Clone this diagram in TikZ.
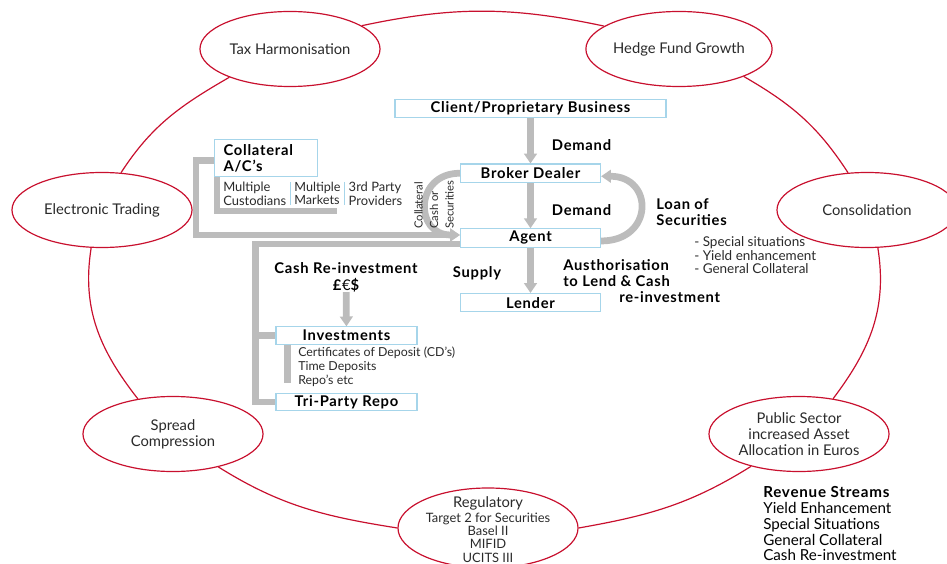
\documentclass[tikz,border=0pt]{standalone}
\usepackage{fontspec}
\setmainfont{Lato}[BoldFeatures={LetterSpace=5}]
\usetikzlibrary{shapes.geometric, arrows.meta, positioning}
\definecolor{ringred}{HTML}{C8102E}
\definecolor{boxblue}{HTML}{A6D5EA}
\definecolor{bargray}{HTML}{BCBCBC}
\definecolor{ringtext}{HTML}{2A2A2A}
\tikzstyle{ring} = [draw=ringred, line width=0.85pt, ellipse, minimum width=4.5cm, minimum height=1.875cm, inner sep=0pt, align=center, text=ringtext, font=\fontsize{10.5}{11.3}\selectfont]
\tikzstyle{ringline} = [draw=ringred, line width=0.85pt]
\tikzstyle{box} = [draw=boxblue, line width=0.8pt, rectangle, minimum width=3.5cm, minimum height=0.46cm, inner sep=0pt, font=\fontsize{10.5}{12}\selectfont\bfseries]
\tikzstyle{arrw} = [draw=bargray, line width=4.8pt, -{Triangle[width=9pt, length=7pt]}]
\tikzstyle{bar} = [draw=bargray, line width=4.6pt]
\tikzstyle{lbl} = [inner sep=0pt, align=left, text=black, font=\fontsize{10.5}{11.3}\selectfont\bfseries]
\tikzstyle{small} = [inner sep=0pt, align=left, text=ringtext, font=\fontsize{8.8}{9.7}\selectfont]
\tikzstyle{divider} = [draw=boxblue, line width=0.8pt]

\begin{document}
\begin{tikzpicture}[x=0.025cm, y=-0.025cm, node distance=1.13cm]
    \useasboundingbox (0,0) rectangle (947,564);

    \node (tax) [ring] at (290,49) {Tax Harmonisation};
    \node (hedge) [ring] at (679,49) {Hedge Fund Growth};
    \node (etrade) [ring] at (102,210) {Electronic Trading};
    \node (consol) [ring] at (867,210) {Consolidation};
    \node (spread) [ring] at (173,434) {Spread\\Compression};
    \node (public) [ring] at (799,434) {Public Sector\\increased Asset\\Allocation in Euros};
    \node (reg) [ring, minimum height=2cm, text height=1.7cm, text depth=0pt, inner ysep=-0.35cm, font=\fontsize{9.2}{9.4}\selectfont] at (488,528) {{\fontsize{10.5}{11}\selectfont Regulatory}\\[1pt]Target 2 for Securities\\Basel II\\MIFID\\UCITS III};

    \draw [ringline] (tax.18) to[out=12, in=168] (hedge.163);
    \draw [ringline] (hedge.337) to[out=-30, in=123] (consol.117);
    \draw [ringline] (consol.286) to[out=-81, in=53] (public.46);
    \draw [ringline] (public.214) to[out=212, in=10] (reg.0);
    \draw [ringline] (reg.180) to[out=171, in=-32] (spread.324);
    \draw [ringline] (spread.135) to[out=128, in=-99] (etrade.254);
    \draw [ringline] (etrade.63) to[out=57, in=210] (tax.205);

    \node (client) [box, minimum width=6.775cm] at (530.5,108.5) {Client/Proprietary Business};
    \node (broker) [box, below=of client] {Broker Dealer};
    \node (agent) [box, below=of broker] {Agent};
    \node (lender) [box, below=of agent] {Lender};

    \draw [arrw] (client) -- node [lbl, right=0.45cm, yshift=-0.1cm] {Demand} (broker);
    \draw [arrw] (broker) -- node [lbl, right=0.45cm, yshift=-0.1cm] {Demand} (agent);
    \draw [arrw] (agent) -- node [lbl, left=0.65cm, yshift=-0.08cm] {Supply} (lender);
    \draw [arrw] ([yshift=-0.075cm]agent.east) to[out=0, in=0, looseness=2.1] ([yshift=-0.075cm]broker.east);
    \draw [arrw] (broker.west) to[out=180, in=180, looseness=1.9] ([yshift=0.075cm]agent.west);

    \node (loan) [lbl, anchor=north west] at (656,198) {Loan of\\Securities};
    \node (uses) [small, anchor=north west, font=\fontsize{9.6}{9.8}\selectfont] at (694,236) {- Special situations\\- Yield enhancement\\- General Collateral};
    \node (auth) [lbl, anchor=north west] at (563,259) {Austhorisation\\to Lend \& Cash\\\hspace*{1.4cm}re-investment};
    \node (collcash) [small, rotate=90, anchor=north west, font=\fontsize{8}{11}\selectfont] at (414,229) {Collateral\\Cash or\\Securities};

    \node (coll) [box, anchor=north west, minimum width=2.575cm, minimum height=0.925cm, text width=2.125cm, inner xsep=0.225cm, align=left, font=\fontsize{10.5}{11.3}\selectfont\bfseries] at (214,139) {Collateral\\A/C's};
    \node (cust) [small, anchor=north west, inner xsep=0.1cm, font=\fontsize{9.2}{9.4}\selectfont] at (219,182) {Multiple\\Custodians};
    \node (mkts) [small, inner xsep=0.09cm, right=0cm of cust, font=\fontsize{9}{9.4}\selectfont] {Multiple\\Markets};
    \node (prov) [small, inner xsep=0.1cm, right=0cm of mkts, font=\fontsize{9.2}{9.4}\selectfont] {3rd Party\\Providers};
    \draw [divider] (mkts.north west) -- (mkts.south west);
    \draw [divider] (prov.north west) -- (prov.south west);
    \draw [bar] ([xshift=0.075cm]coll.south west) -- ++(0,-0.85cm) -- ++(3.0cm,0);
    \draw [arrw] ([yshift=-0.06cm]coll.west) -- ++(-0.45cm,0) |- ([yshift=0.075cm]agent.west);

    \node (cash) [lbl, align=center, font=\fontsize{10.5}{12}\selectfont\bfseries] at (346,277) {Cash Re-investment\\£\textnormal{€}\$};
    \node (inv) [box, minimum width=3.525cm, minimum height=0.43cm] at (346.5,335.5) {Investments};
    \node (tri) [box, minimum width=3.525cm, minimum height=0.43cm, below=1.2cm of inv] {Tri-Party Repo};
    \node (cds) [small, anchor=north west] at (298,347) {Certificates of Deposit (CD's)\\Time Deposits\\Repo's etc};
    \draw [arrw] (cash) -- (inv);
    \draw [bar] ([yshift=-0.15cm]agent.west) -| ([xshift=-0.5cm]inv.west) |- (tri.west);
    \draw [bar] ([xshift=-0.5cm]inv.west) -- (inv.west);
    \draw [bar] ([xshift=0.3cm]inv.south west) -- ++(0,-0.95cm);

    \node (rev) [lbl, anchor=north west, font=\fontsize{10.8}{11.3}\selectfont] at (763,486) {\textbf{Revenue Streams}\\Yield Enhancement\\Special Situations\\General Collateral\\Cash Re-investment};
\end{tikzpicture}
\end{document}
